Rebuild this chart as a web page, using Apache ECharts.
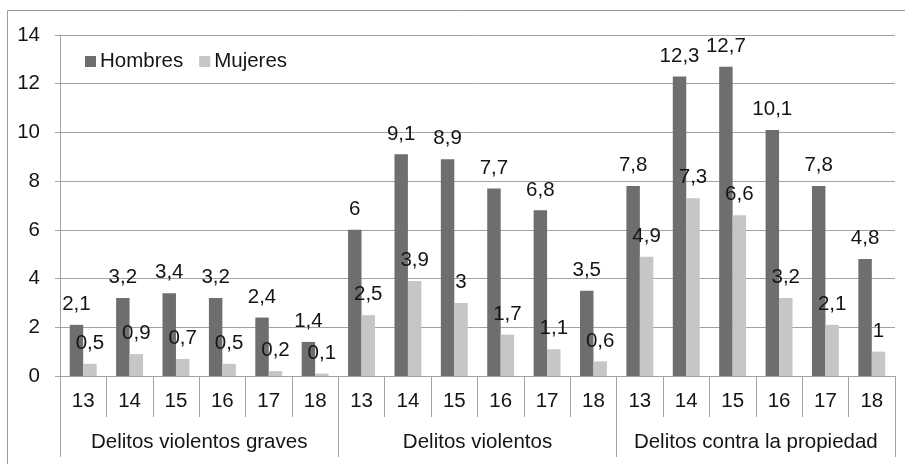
<!DOCTYPE html>
<html>
<head>
<meta charset="utf-8">
<script src="https://cdn.jsdelivr.net/npm/echarts@6/dist/echarts.min.js"></script>
<style>
html,body{margin:0;padding:0;background:#fff;}
#chart{width:905px;height:464px;}
</style>
</head>
<body>
<div id="chart"></div>
<script>
var ages = ['13','14','15','16','17','18','13','14','15','16','17','18','13','14','15','16','17','18'];
var groups = ['Delitos violentos graves','Delitos violentos','Delitos contra la propiedad'];
var hombres = [2.1,3.2,3.4,3.2,2.4,1.4, 6,9.1,8.9,7.7,6.8,3.5, 7.8,12.3,12.7,10.1,7.8,4.8];
var mujeres = [0.5,0.9,0.7,0.5,0.2,0.1, 2.5,3.9,3,1.7,1.1,0.6, 4.9,7.3,6.6,3.2,2.1,1];
var yTicks = [0,2,4,6,8,10,12,14];

var FONT = 'Liberation Sans';
var FS = 20.5;
var TXT = '#141414';
var LINE = '#a3a3a3';

var chart = echarts.init(document.getElementById('chart'));
function fmt(p){ return String(p.value).replace('.', ','); }
chart.setOption({
  animation:false,
  backgroundColor:'#fff',
  textStyle:{fontFamily:FONT},
  graphic:[{type:'rect', left:5, top:8, shape:{width:1000,height:1000}, style:{fill:'none', stroke:'#9a9a9a', lineWidth:1}, silent:true, z:-10}],
  legend:{
    left:80, top:46, itemWidth:11, itemHeight:11, itemGap:16,
    icon:'rect',
    textStyle:{fontFamily:FONT, fontSize:FS, color:TXT, padding:[0,0,0,-1]},
    data:['Hombres','Mujeres']
  },
  grid:{left:60, right:10, top:35, bottom:88, containLabel:false},
  xAxis:[
    {type:'category', data:ages, gridIndex:0, position:'bottom',
     axisLine:{show:true, lineStyle:{color:LINE, width:1}},
     axisTick:{show:true, interval:0, length:41, lineStyle:{color:LINE, width:1}},
     axisLabel:{interval:0, margin:15, fontFamily:FONT, fontSize:FS, color:TXT}},
    {type:'category', data:groups, gridIndex:0, position:'bottom', offset:41,
     axisLine:{show:false},
     axisTick:{show:true, interval:0, length:40, lineStyle:{color:LINE, width:1}},
     axisLabel:{interval:0, margin:15, fontFamily:FONT, fontSize:FS, color:TXT}}
  ],
  yAxis:{type:'value', min:yTicks[0], max:yTicks[yTicks.length-1], interval:2,
    axisLine:{show:true, lineStyle:{color:LINE, width:1}},
    axisTick:{show:true, length:5, lineStyle:{color:LINE, width:1}},
    splitLine:{show:true, lineStyle:{color:LINE, width:1}},
    axisLabel:{margin:20, fontFamily:FONT, fontSize:FS, color:TXT}},
  series:[
    {name:'Hombres', type:'bar', xAxisIndex:0, data:hombres, barGap:'0%', barCategoryGap:'42%',
     itemStyle:{color:'#6e6e70'},
     label:{show:true, position:'top', distance:10, formatter:fmt, fontFamily:FONT, fontSize:FS, color:TXT}},
    {name:'Mujeres', type:'bar', xAxisIndex:0, data:mujeres, barGap:'0%', barCategoryGap:'42%',
     itemStyle:{color:'#c6c6c8'},
     label:{show:true, position:'top', distance:10, formatter:fmt, fontFamily:FONT, fontSize:FS, color:TXT}}
  ]
});
</script>
</body>
</html>
